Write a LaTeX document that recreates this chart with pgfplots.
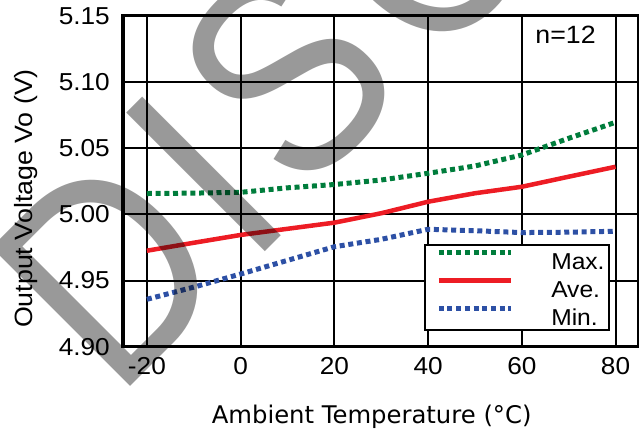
\documentclass[border=0pt]{standalone}
\usepackage{fontspec}
\setmainfont{Liberation Sans}[FakeStretch=1.07]
\newfontfamily\xlabelfont{DejaVu Sans}
\newfontfamily\wmfont{Liberation Sans}[FakeStretch=0.85]
\usepackage{pgfplots}
\pgfplotsset{compat=1.18}

\definecolor{maxgreen}{RGB}{0,125,60}
\definecolor{avered}{RGB}{237,28,36}
\definecolor{minblue}{RGB}{45,80,165}

\begin{document}
\begin{tikzpicture}
\useasboundingbox (0pt,0pt) rectangle (639pt,432pt);
\begin{axis}[
    at={(123pt,85.3pt)}, anchor=south west,
    width=516pt, height=331pt, scale only axis,
    xmin=-25.1, xmax=85, ymin=4.90, ymax=5.15,
    xtick={-20,0,20,40,60,80},
    ytick={4.90,4.95,5.00,5.05,5.10,5.15},
    /pgf/number format/assume math mode=true,
    tick label style={font=\fontsize{24.5}{24.5}\selectfont, inner sep=0pt},
    xticklabel style={anchor=north, yshift=-10.3pt},
    yticklabel style={anchor=east, xshift=-13pt,
        /pgf/number format/fixed, /pgf/number format/fixed zerofill,
        /pgf/number format/precision=2},
    major tick length=0pt,
    grid=major,
    major grid style={black, line width=2pt},
    axis line style={black, line width=3.5pt},
    ylabel={Output Voltage Vo (V)},
    ylabel style={at={(axis description cs:-0.1762,0.4477)}, anchor=base,
        font=\fontsize{25}{25}\selectfont, inner sep=0pt},
    xlabel={Ambient Temperature (°C)},
    xlabel style={at={(axis description cs:0.482,-0.2305)}, anchor=base,
        font=\xlabelfont\fontsize{24.3}{24.3}\selectfont, inner sep=0pt},
    legend style={at={(axis description cs:0.943,0.047)}, anchor=south east,
        draw=black, line width=2pt, fill=white,
        font=\fontsize{23}{23}\selectfont,
        inner xsep=4pt, inner ysep=5pt, column sep=38pt, row sep=9pt,
        nodes={inner sep=0pt, text height=16.5pt, text depth=0pt}},
    legend cell align=left,
    legend image code/.code={\path (0pt,0pt);
        \draw[#1] (7pt,8.25pt) -- (79pt,8.25pt);},
]
\addplot[maxgreen, line width=5pt, line cap=butt, dash pattern=on 5pt off 3.7pt]
  coordinates {(-20,5.0157) (-10,5.0160) (0,5.0166) (10,5.0200) (20,5.0225)
               (30,5.0259) (40,5.0310) (50,5.0365) (60,5.0448) (70,5.0574) (80,5.0695)};
\addlegendentry{Max.}
\addplot[avered, line width=4.5pt]
  coordinates {(-20,4.9725) (-10,4.9785) (0,4.9844) (20,4.9937) (30,5.0008)
               (40,5.0095) (50,5.0159) (60,5.0208) (70,5.0284) (80,5.0359)};
\addlegendentry{Ave.}
\addplot[minblue, line width=5pt, line cap=butt, dash pattern=on 5pt off 3.7pt]
  coordinates {(-20,4.9358) (-10,4.9450) (0,4.9549) (20,4.9755) (30,4.9811)
               (40,4.9887) (50,4.9876) (60,4.9862) (70,4.9865) (80,4.9872)};
\addlegendentry{Min.}
\node[anchor=base, inner sep=0pt, font=\fontsize{25}{25}\selectfont]
  at (axis description cs:0.8577,0.9175) {n=12};
\end{axis}
\node[rotate=45, anchor=base west, inner sep=0pt, text opacity=0.4,
      font=\wmfont\fontsize{285}{285}\selectfont] at (116.3pt,31.3pt)
      {D\kern14pt I\kern14pt\raisebox{12pt}{S\kern20pt C\kern10pt ONTINUED}};
\end{tikzpicture}
\end{document}
